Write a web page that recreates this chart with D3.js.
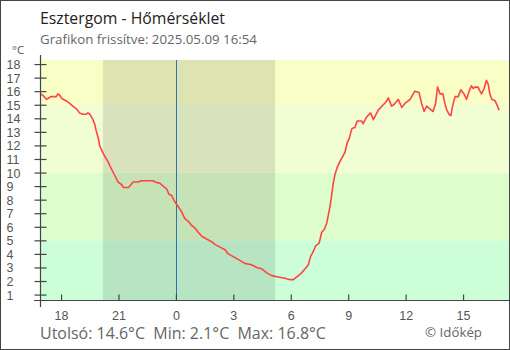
<!DOCTYPE html>
<html>
<head>
<meta charset="utf-8">
<script src="https://cdn.jsdelivr.net/npm/d3@7"></script>
<style>
  html, body { margin: 0; padding: 0; background: #fff; }
  svg { display: block; font-family: "Open Sans", sans-serif; }
  text { white-space: pre; }
</style>
</head>
<body>
<svg id="chart" width="510" height="350"></svg>
<script>
// Esztergom air temperature, last 24 hours
const times = [
  "2025-05-08 16:54","2025-05-08 17:03","2025-05-08 17:14","2025-05-08 17:21","2025-05-08 17:28",
  "2025-05-08 17:45","2025-05-08 17:50","2025-05-08 17:56","2025-05-08 18:01","2025-05-08 18:06",
  "2025-05-08 18:16","2025-05-08 18:27","2025-05-08 18:37","2025-05-08 18:48","2025-05-08 18:58",
  "2025-05-08 19:09","2025-05-08 19:19","2025-05-08 19:24","2025-05-08 19:30","2025-05-08 19:35",
  "2025-05-08 19:40","2025-05-08 19:45","2025-05-08 19:50","2025-05-08 19:56","2025-05-08 20:01",
  "2025-05-08 20:06","2025-05-08 20:17","2025-05-08 20:27","2025-05-08 20:37","2025-05-08 20:48",
  "2025-05-08 20:59","2025-05-08 21:10","2025-05-08 21:15","2025-05-08 21:31","2025-05-08 21:39",
  "2025-05-08 21:46","2025-05-08 22:02","2025-05-08 22:11","2025-05-08 22:23","2025-05-08 22:49",
  "2025-05-08 22:54","2025-05-08 23:10","2025-05-08 23:20","2025-05-08 23:31","2025-05-08 23:38",
  "2025-05-08 23:47","2025-05-08 23:55","2025-05-09 00:07","2025-05-09 00:18","2025-05-09 00:28",
  "2025-05-09 00:39","2025-05-09 00:49","2025-05-09 01:00","2025-05-09 01:10","2025-05-09 01:21",
  "2025-05-09 01:36","2025-05-09 01:52","2025-05-09 02:02","2025-05-09 02:18","2025-05-09 02:34",
  "2025-05-09 02:44","2025-05-09 03:00","2025-05-09 03:15","2025-05-09 03:36","2025-05-09 03:57",
  "2025-05-09 04:13","2025-05-09 04:29","2025-05-09 04:45","2025-05-09 05:00","2025-05-09 05:21",
  "2025-05-09 05:42","2025-05-09 05:58","2025-05-09 06:08","2025-05-09 06:19","2025-05-09 06:24",
  "2025-05-09 06:34","2025-05-09 06:45","2025-05-09 06:55","2025-05-09 07:02","2025-05-09 07:11",
  "2025-05-09 07:18","2025-05-09 07:29","2025-05-09 07:37","2025-05-09 07:45","2025-05-09 07:53",
  "2025-05-09 07:58","2025-05-09 08:03","2025-05-09 08:08","2025-05-09 08:13","2025-05-09 08:19",
  "2025-05-09 08:26","2025-05-09 08:34","2025-05-09 08:43","2025-05-09 08:50","2025-05-09 08:57",
  "2025-05-09 09:03","2025-05-09 09:11","2025-05-09 09:16","2025-05-09 09:21","2025-05-09 09:28",
  "2025-05-09 09:42","2025-05-09 09:47","2025-05-09 09:58","2025-05-09 10:10","2025-05-09 10:19",
  "2025-05-09 10:34","2025-05-09 10:50","2025-05-09 10:58","2025-05-09 11:06","2025-05-09 11:16",
  "2025-05-09 11:23","2025-05-09 11:37","2025-05-09 11:48","2025-05-09 11:58","2025-05-09 12:14",
  "2025-05-09 12:29","2025-05-09 12:42","2025-05-09 12:50","2025-05-09 12:58","2025-05-09 13:06",
  "2025-05-09 13:16","2025-05-09 13:26","2025-05-09 13:34","2025-05-09 13:40","2025-05-09 13:48",
  "2025-05-09 13:57","2025-05-09 14:03","2025-05-09 14:09","2025-05-09 14:16","2025-05-09 14:22",
  "2025-05-09 14:27","2025-05-09 14:35","2025-05-09 14:45","2025-05-09 14:53","2025-05-09 15:03",
  "2025-05-09 15:11","2025-05-09 15:19","2025-05-09 15:26","2025-05-09 15:32","2025-05-09 15:37",
  "2025-05-09 15:47","2025-05-09 15:53","2025-05-09 15:58","2025-05-09 16:06","2025-05-09 16:13",
  "2025-05-09 16:19","2025-05-09 16:24","2025-05-09 16:30","2025-05-09 16:40","2025-05-09 16:48",
  "2025-05-09 16:53"
];
const temps = [
  15.8,15.7,15.4,15.5,15.6, 15.6,15.8,15.7,15.5,15.4, 15.3,15.1,14.9,14.7,14.4,
  14.3,14.3,14.4,14.3,14.1, 13.9,13.6,13.1,12.6,12.0, 11.7,11.2,10.8,10.3,9.8,
  9.3,9.1,8.9,8.9,9.1, 9.3,9.3,9.4,9.4,9.4, 9.3,9.2,9.0,8.8,8.4,
  8.3,7.9,7.5,7.1,6.6, 6.4,6.1,5.9,5.6,5.3, 5.1,4.9,4.7,4.5,4.3,
  4.0,3.8,3.6,3.3,3.2, 3.0,2.9,2.6,2.4,2.3, 2.2,2.1,2.1,2.3,2.4,
  2.6,2.9,3.2,3.8,4.2, 4.6,4.8,5.6,5.8,6.3, 6.9,7.5,8.3,9.2,9.9,
  10.4,10.8,11.2,11.5,12.2, 12.5,13.2,13.3,13.3,13.8, 13.8,13.6,14.1,14.4,13.9,
  14.6,15.0,15.2,15.5,14.9, 15.0,15.4,14.8,15.1,15.4, 16.0,15.9,15.1,14.5,14.9,
  14.7,14.5,15.1,16.3,15.8, 15.8,15.1,14.6,14.3,14.2, 14.9,15.6,15.6,16.1,15.8,
  15.4,16.0,16.4,16.2,16.3, 16.3,16.0,15.8,16.2,16.8, 16.5,15.8,15.4,15.3,14.9,
  14.6
];

// Axis ticks and background bands
const yTicks = d3.range(1, 19);
const xTickTimes = ["2025-05-08 18:00","2025-05-08 21:00","2025-05-09 00:00","2025-05-09 03:00",
                    "2025-05-09 06:00","2025-05-09 09:00","2025-05-09 12:00","2025-05-09 15:00"];
const xTickLabels = ["18","21","0","3","6","9","12","15"];
const bandEdges = [0.6, 5, 10, 15, 18.3];
const bandColors = ["#ccfed8", "#ddfdcc", "#f1fdd3", "#f8fec6"];
const nightSpan = ["2025-05-08 20:11", "2025-05-09 05:11"];
const midnight = "2025-05-09 00:00";
const timeDomain = ["2025-05-08 16:54", "2025-05-09 17:24"];

const parse = d3.timeParse("%Y-%m-%d %H:%M");
const data = times.map((t, i) => ({ t: parse(t), v: temps[i] }));

const svg = d3.select("#chart");
const W = 510, H = 350;
const plotL = 40, plotR = 509, plotT = 60, plotB = 300;

const x = d3.scaleTime().domain(timeDomain.map(parse)).range([plotL, plotR]);
const y = d3.scaleLinear().domain([bandEdges[0], bandEdges[bandEdges.length - 1]]).range([plotB, plotT]);

// shrink a text's font until it fits the given width
function fitWidth(sel, width) {
  let size = +sel.attr("font-size");
  const len = sel.node().getComputedTextLength();
  if (len > 0) sel.attr("font-size", (size * width / len).toFixed(2));
  return sel;
}

// temperature bands
svg.append("g").selectAll("rect")
  .data(bandColors)
  .join("rect")
  .attr("x", plotL)
  .attr("width", plotR - plotL)
  .attr("y", (c, i) => y(bandEdges[i + 1]))
  .attr("height", (c, i) => y(bandEdges[i]) - y(bandEdges[i + 1]))
  .attr("fill", c => c);

// night shading
svg.append("rect")
  .attr("x", x(parse(nightSpan[0])))
  .attr("width", x(parse(nightSpan[1])) - x(parse(nightSpan[0])))
  .attr("y", plotT)
  .attr("height", plotB - plotT)
  .attr("fill", "rgba(0,0,0,0.1)");

// midnight marker
svg.append("line")
  .attr("x1", Math.round(x(parse(midnight))) + 0.5)
  .attr("x2", Math.round(x(parse(midnight))) + 0.5)
  .attr("y1", plotT).attr("y2", plotB)
  .attr("stroke", "#2c74b0").attr("stroke-width", 1);

// temperature line
svg.append("path")
  .datum(data)
  .attr("fill", "none")
  .attr("stroke", "#ff4444")
  .attr("stroke-width", 1.6)
  .attr("stroke-linejoin", "round")
  .attr("d", d3.line().x(d => x(d.t)).y(d => y(d.v)));

// y axis: line with ticks crossing it
const yAxis = d3.axisLeft(y).tickValues(yTicks).tickSize(0).tickFormat("");
const gy = svg.append("g").attr("transform", `translate(${plotL + 0.5},0)`).call(yAxis);
gy.select(".domain").remove();
gy.append("line").attr("x1", 0).attr("x2", 0).attr("y1", 55).attr("y2", 307)
  .attr("stroke", "#444").attr("stroke-width", 1.2);
gy.selectAll(".tick").append("line")
  .attr("x1", -6).attr("x2", 6).attr("y1", 0).attr("y2", 0)
  .attr("stroke", "#444").attr("stroke-width", 1.2);
gy.selectAll(".tick").append("text")
  .attr("x", -34).attr("dy", "0.36em")
  .attr("text-anchor", "start")
  .attr("fill", "#555").attr("font-size", 12.5)
  .text(d => d);

svg.append("text").attr("x", 12).attr("y", 53.5)
  .attr("fill", "#555").attr("font-size", 11.5).text("°C");

// x axis
const xAxis = d3.axisBottom(x).tickValues(xTickTimes.map(parse)).tickSize(0).tickFormat("");
const gx = svg.append("g").attr("transform", `translate(0,${plotB + 0.5})`).call(xAxis);
gx.select(".domain").remove();
gx.append("line").attr("x1", 34).attr("x2", plotR).attr("y1", 0).attr("y2", 0)
  .attr("stroke", "#444").attr("stroke-width", 1.2);
gx.selectAll(".tick").append("line")
  .attr("x1", 0).attr("x2", 0).attr("y1", -6).attr("y2", 0)
  .attr("stroke", "#444").attr("stroke-width", 1.2);
gx.selectAll(".tick").append("text")
  .attr("y", 19)
  .attr("text-anchor", "middle")
  .attr("fill", "#555").attr("font-size", 12.5)
  .text((d, i) => xTickLabels[i]);

// titles
fitWidth(svg.append("text").attr("x", 40).attr("y", 24)
  .attr("fill", "#222").attr("font-size", 16).text("Esztergom - Hőmérséklet"), 185);
fitWidth(svg.append("text").attr("x", 40).attr("y", 44)
  .attr("fill", "#666").attr("font-size", 12.5).text("Grafikon frissítve: 2025.05.09 16:54"), 217);

// summary footer
const last = temps[temps.length - 1], tMin = d3.min(temps), tMax = d3.max(temps);
fitWidth(svg.append("text").attr("x", 40).attr("y", 339)
  .attr("fill", "#666").attr("font-size", 16)
  .text(`Utolsó: ${last.toFixed(1)}°C  Min: ${tMin.toFixed(1)}°C  Max: ${tMax.toFixed(1)}°C`), 286);
fitWidth(svg.append("text").attr("x", 482).attr("y", 337)
  .attr("text-anchor", "end")
  .attr("fill", "#666").attr("font-size", 13).text("© Időkép"), 57);

// frame
svg.append("rect").attr("x", 0.5).attr("y", 0.5).attr("width", W - 1).attr("height", H - 1)
  .attr("fill", "none").attr("stroke", "#444").attr("stroke-width", 1);
</script>
</body>
</html>
